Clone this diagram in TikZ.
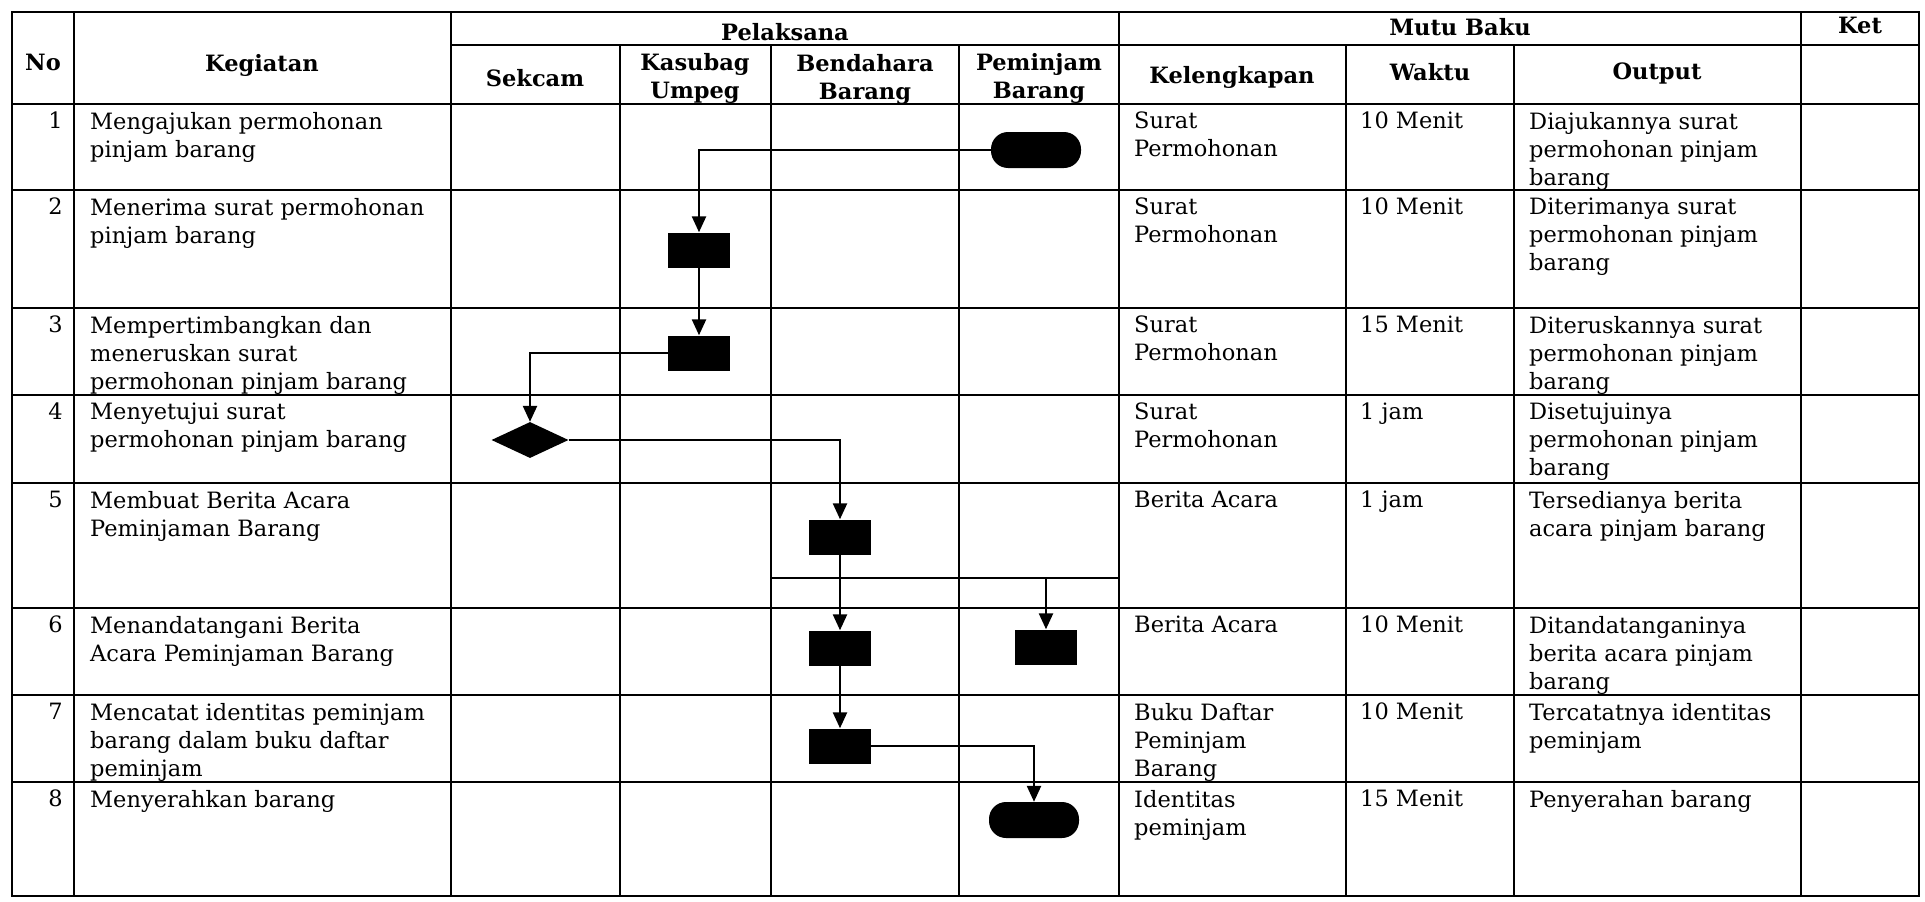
\documentclass[tikz,border=0pt]{standalone}
\usepackage{fontspec}
\setmainfont{DejaVu Serif}
\usetikzlibrary{arrows.meta,shapes.geometric}
\newcommand{\tablefont}{\fontsize{22.5pt}{28pt}\selectfont}

\begin{document}
\begin{tikzpicture}[
  x=1pt, y=-1pt,
  font=\tablefont,
  >={Triangle[width=14pt,length=16pt]},
  rule/.style={line width=2.5pt},
  head/.style={font=\tablefont\bfseries, align=center, inner sep=0pt},
  cell/.style={anchor=north west, align=left, inner sep=0pt},
  num/.style={anchor=north east, inner sep=0pt},
  act/.style={fill=black, minimum width=62pt, minimum height=35pt, inner sep=0pt},
  term/.style={act, rounded corners=17pt, minimum width=90pt, minimum height=36pt},
  decision/.style={act, diamond, minimum width=77pt, minimum height=36pt},
  flow/.style={->, line width=2.4pt}
]
\useasboundingbox (0,0) rectangle (1925,902);

% table grid
\draw[rule] (12,12) rectangle (1919,896);
\draw[rule] (74,12) -- (74,896) (451,12) -- (451,896) (1119,12) -- (1119,896) (1801,12) -- (1801,896);
\draw[rule] (620,45) -- (620,896) (771,45) -- (771,896) (959,45) -- (959,896)
  (1346,45) -- (1346,896) (1514,45) -- (1514,896);
\draw[rule] (451,45) -- (1919,45);
\draw[rule] (12,104) -- (1919,104) (12,190) -- (1919,190) (12,308) -- (1919,308)
  (12,395) -- (1919,395) (12,483) -- (1919,483) (12,608) -- (1919,608)
  (12,695) -- (1919,695) (12,782) -- (1919,782);

% header
\node[head, anchor=base] (hno) at (43,70) {No};
\node[head, anchor=base] (hkeg) at (262,71) {Kegiatan};
\node[head, anchor=base] (hpel) at (785,40) {Pelaksana};
\node[head, anchor=base] (hmutu) at (1460,35) {Mutu Baku};
\node[head, anchor=base] (hket) at (1860,33) {Ket};
\node[head, anchor=base] (hsek) at (535,86) {Sekcam};
\node[head, anchor=north] (hkas) at (695,53) {Kasubag\\Umpeg};
\node[head, anchor=north] (hben) at (865,54) {Bendahara\\Barang};
\node[head, anchor=north] (hpem) at (1039,53) {Peminjam\\Barang};
\node[head, anchor=base] (hkel) at (1232,83) {Kelengkapan};
\node[head, anchor=base] (hwak) at (1430,80) {Waktu};
\node[head, anchor=base] (hout) at (1657,79) {Output};

% rows
\node[num] (n1) at (63,112) {1};
\node[cell] (k1) at (90,112) {Mengajukan permohonan\\pinjam barang};
\node[cell] (l1) at (1134,112) {Surat\\Permohonan};
\node[cell] (w1) at (1360,112) {10 Menit};
\node[cell] (o1) at (1529,112) {Diajukannya surat\\permohonan pinjam\\barang};

\node[num] (n2) at (63,198) {2};
\node[cell] (k2) at (90,198) {Menerima surat permohonan\\pinjam barang};
\node[cell] (l2) at (1134,198) {Surat\\Permohonan};
\node[cell] (w2) at (1360,198) {10 Menit};
\node[cell] (o2) at (1529,198) {Diterimanya surat\\permohonan pinjam\\barang};

\node[num] (n3) at (63,316) {3};
\node[cell] (k3) at (90,316) {Mempertimbangkan dan\\meneruskan surat\\permohonan pinjam barang};
\node[cell] (l3) at (1134,316) {Surat\\Permohonan};
\node[cell] (w3) at (1360,316) {15 Menit};
\node[cell] (o3) at (1529,316) {Diteruskannya surat\\permohonan pinjam\\barang};

\node[num] (n4) at (63,403) {4};
\node[cell] (k4) at (90,403) {Menyetujui surat\\permohonan pinjam barang};
\node[cell] (l4) at (1134,403) {Surat\\Permohonan};
\node[cell] (w4) at (1360,403) {1 jam};
\node[cell] (o4) at (1529,403) {Disetujuinya\\permohonan pinjam\\barang};

\node[num] (n5) at (63,491) {5};
\node[cell] (k5) at (90,491) {Membuat Berita Acara\\Peminjaman Barang};
\node[cell] (l5) at (1134,491) {Berita Acara};
\node[cell] (w5) at (1360,491) {1 jam};
\node[cell] (o5) at (1529,491) {Tersedianya berita\\acara pinjam barang};

\node[num] (n6) at (63,616) {6};
\node[cell] (k6) at (90,616) {Menandatangani Berita\\Acara Peminjaman Barang};
\node[cell] (l6) at (1134,616) {Berita Acara};
\node[cell] (w6) at (1360,616) {10 Menit};
\node[cell] (o6) at (1529,616) {Ditandatanganinya\\berita acara pinjam\\barang};

\node[num] (n7) at (63,703) {7};
\node[cell] (k7) at (90,703) {Mencatat identitas peminjam\\barang dalam buku daftar\\peminjam};
\node[cell] (l7) at (1134,703) {Buku Daftar\\Peminjam\\Barang};
\node[cell] (w7) at (1360,703) {10 Menit};
\node[cell] (o7) at (1529,703) {Tercatatnya identitas\\peminjam};

\node[num] (n8) at (63,790) {8};
\node[cell] (k8) at (90,790) {Menyerahkan barang};
\node[cell] (l8) at (1134,790) {Identitas\\peminjam};
\node[cell] (w8) at (1360,790) {15 Menit};
\node[cell] (o8) at (1529,790) {Penyerahan barang};

% flow symbols
\node[term] (start) at (1036,150) {};
\node[act] (terima) at (699,250) {};
\node[act] (timbang) at (699,353) {};
\node[decision] (setuju) at (530,440) {};
\node[act] (buatba) at (840,537) {};
\node[act] (ttdbend) at (840,648) {};
\node[act] (ttdpem) at (1046,647) {};
\node[act] (catat) at (840,746) {};
\node[term] (serah) at (1034,820) {};
\coordinate (bagiL) at (771,578);
\coordinate (bagiR) at (1119,578);
\coordinate (bagi) at (1046,578);

\draw[flow] (start.west) -| (terima.north);
\draw[flow] (terima) -- (timbang);
\draw[flow] (timbang.west) -| (setuju.north);
\draw[flow] (setuju.east) -| (buatba.north);
\draw[flow] (buatba) -- (ttdbend);
\draw[rule] (bagiL) -- (bagiR);
\draw[flow] (bagi) -- (ttdpem);
\draw[flow] (ttdbend) -- (catat);
\draw[flow] (catat.east) -| (serah.north);
\end{tikzpicture}
\end{document}
